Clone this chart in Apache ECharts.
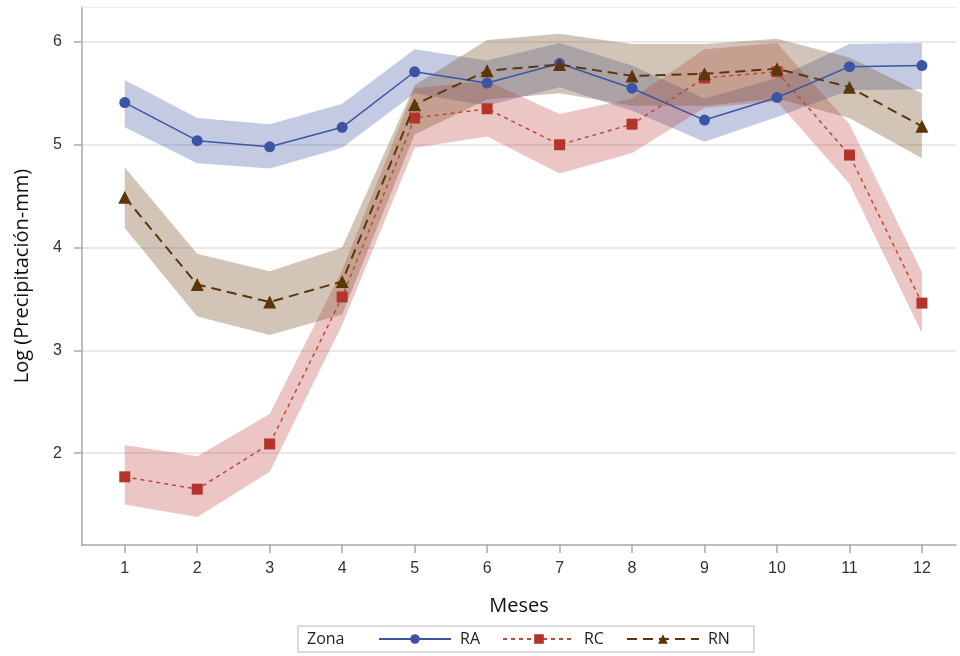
<!DOCTYPE html>
<html>
<head>
<meta charset="utf-8">
<script src="https://cdn.jsdelivr.net/npm/echarts@6/dist/echarts.min.js"></script>
<style>
html,body{margin:0;padding:0;background:#fff;}
#chart{width:960px;height:656px;}
</style>
</head>
<body>
<div id="chart"></div>
<script>
const months = [1,2,3,4,5,6,7,8,9,10,11,12];
const yTicks = [2,3,4,5,6];

const RA = [5.41, 5.04, 4.98, 5.17, 5.71, 5.60, 5.79, 5.55, 5.24, 5.46, 5.76, 5.77];
const RA_low = [5.17, 4.82, 4.77, 4.97, 5.50, 5.38, 5.56, 5.33, 5.03, 5.27, 5.53, 5.54];
const RA_high = [5.63, 5.26, 5.20, 5.40, 5.93, 5.82, 5.99, 5.77, 5.45, 5.65, 5.98, 5.99];

const RC = [1.77, 1.65, 2.09, 3.52, 5.26, 5.35, 5.00, 5.20, 5.65, 5.71, 4.90, 3.46];
const RC_low = [1.50, 1.38, 1.82, 3.25, 4.97, 5.08, 4.72, 4.92, 5.36, 5.42, 4.62, 3.17];
const RC_high = [2.08, 1.97, 2.38, 3.78, 5.55, 5.62, 5.30, 5.45, 5.93, 5.99, 5.20, 3.76];

const RN = [4.49, 3.64, 3.47, 3.67, 5.39, 5.72, 5.78, 5.67, 5.69, 5.74, 5.56, 5.18];
const RN_low = [4.19, 3.33, 3.15, 3.35, 5.10, 5.44, 5.50, 5.38, 5.38, 5.45, 5.26, 4.87];
const RN_high = [4.78, 3.94, 3.77, 4.00, 5.58, 6.02, 6.08, 5.98, 5.98, 6.03, 5.85, 5.50];

const pairs = (ys) => months.map((m, i) => [m, ys[i]]);

function band(name, lo, hi, color) {
  return {
    name: name + '_band', type: 'custom', silent: true, z: 1,
    data: months.map((m, i) => [m, lo[i], hi[i]]),
    encode: { x: 0, y: [1, 2] },
    renderItem: function (params, api) {
      if (params.dataIndex !== 0) return null;
      const upper = months.map((m, i) => api.coord([m, hi[i]]));
      const lower = months.map((m, i) => api.coord([m, lo[i]])).reverse();
      return {
        type: 'polygon',
        shape: { points: upper.concat(lower) },
        style: { fill: color, stroke: null }
      };
    }
  };
}

const chart = echarts.init(document.getElementById('chart'));
const tickFont = { fontFamily: 'Liberation Sans, Arial, sans-serif', fontSize: 16, color: '#333' };

chart.setOption({
  animation: false,
  grid: { left: 82, right: 4, top: 7, bottom: 111, containLabel: false },
  xAxis: [{
    type: 'value', min: 0.41, max: 12.47,
    axisLine: { show: true, lineStyle: { color: '#a8a8a8', width: 1.5 } },
    axisTick: { show: true, length: 8, lineStyle: { color: '#a8a8a8', width: 1.5 }, customValues: months },
    axisLabel: Object.assign({ margin: 16, customValues: months }, tickFont),
    splitLine: { show: false },
    name: 'Meses', nameLocation: 'middle', nameGap: 51,
    nameTextStyle: { fontFamily: 'Open Sans, sans-serif', fontSize: 20, color: '#111' }
  }, {
    type: 'value', position: 'top', min: 0.41, max: 12.47,
    axisLine: { show: true, lineStyle: { color: '#ececec', width: 1 } },
    axisTick: { show: false }, axisLabel: { show: false }, splitLine: { show: false }
  }],
  yAxis: {
    type: 'value', min: 1.107, max: 6.34,
    axisLine: { show: true, lineStyle: { color: '#a8a8a8', width: 1.5 } },
    axisTick: { show: true, length: 8, lineStyle: { color: '#a8a8a8', width: 1.5 }, customValues: yTicks },
    axisLabel: Object.assign({ margin: 20, customValues: yTicks }, tickFont),
    splitLine: { show: true, lineStyle: { color: '#e2e2e2', width: 1.5 } },
    name: 'Log (Precipitación-mm)', nameLocation: 'middle', nameGap: 50,
    nameTextStyle: { fontFamily: 'Open Sans, sans-serif', fontSize: 20, color: '#111' }
  },
  legend: {
    data: ['RA', 'RC', 'RN'],
    left: 298, top: 626,
    padding: [5, 24, 5, 80],
    borderColor: '#cfcfcf', borderWidth: 1.5,
    itemWidth: 72, itemHeight: 12, itemGap: 22,
    textStyle: { fontFamily: 'Open Sans, sans-serif', fontSize: 16, color: '#222', padding: [0, 0, 0, 4] }
  },
  graphic: [{
    type: 'text', x: 307, y: 639,
    style: { text: 'Zona', fontFamily: 'Open Sans, sans-serif', fontSize: 16, fill: '#222', verticalAlign: 'middle' }
  }],
  series: [
    band('RA', RA_low, RA_high, 'rgba(74,95,168,0.33)'),
    band('RC', RC_low, RC_high, 'rgba(184,50,42,0.28)'),
    band('RN', RN_low, RN_high, 'rgba(122,85,48,0.34)'),
    { name: 'RA', type: 'line', data: pairs(RA), symbol: 'circle', symbolSize: 11,
      itemStyle: { color: '#3b55a5' }, lineStyle: { color: '#3b55a5', width: 1.5 }, z: 5 },
    { name: 'RC', type: 'line', data: pairs(RC), symbol: 'rect', symbolSize: 11,
      itemStyle: { color: '#b3342b' }, lineStyle: { color: '#c0463c', width: 1.5, type: [4, 4] }, z: 5 },
    { name: 'RN', type: 'line', data: pairs(RN), symbol: 'triangle', symbolSize: 13,
      itemStyle: { color: '#5a3608' }, lineStyle: { color: '#5a3608', width: 2, type: [10, 6] }, z: 6 }
  ]
});
</script>
</body>
</html>
